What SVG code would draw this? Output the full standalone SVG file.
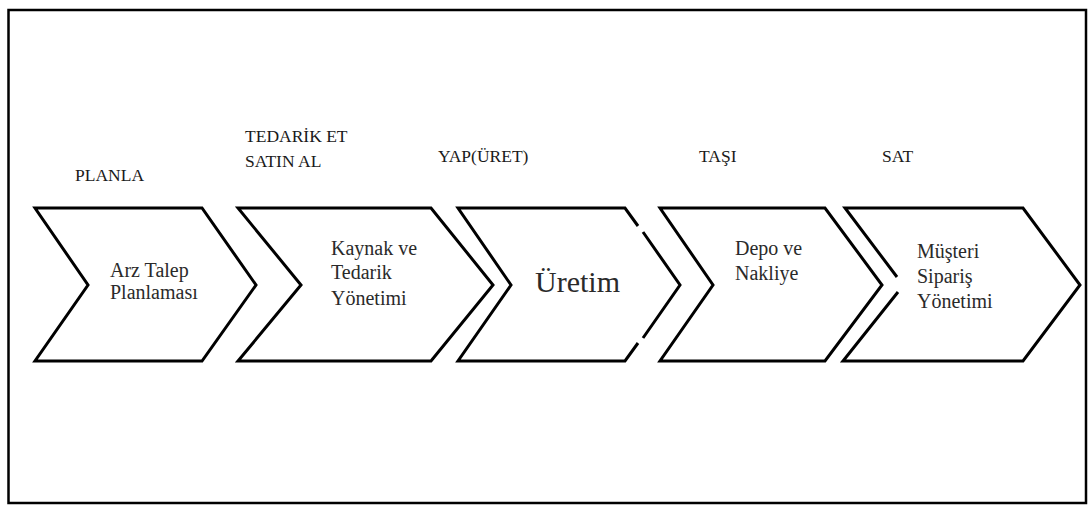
<svg xmlns="http://www.w3.org/2000/svg" width="1090" height="507" viewBox="0 0 1090 507">
<style>
.frame{fill:none;stroke:#000;stroke-width:2.5}
.chev{fill:#fff;stroke:#000;stroke-width:3;stroke-linejoin:miter}
.edge{fill:none;stroke:#000;stroke-width:3;stroke-linejoin:miter}
text{font-family:'Liberation Serif','DejaVu Serif',serif}
.lbl{font-size:17.5px;fill:#1a1a1a}
.in{font-size:20px;fill:#2a2a2a}
.big{font-size:30px;fill:#2a2a2a}
</style>
<rect width="1090" height="507" fill="#fff"/>
<rect class="frame" x="8.5" y="10" width="1077.5" height="493"/>
<g id="labels">
<text class="lbl" x="75" y="181">PLANLA</text>
<text class="lbl" x="245" y="142">TEDARİK ET</text>
<text class="lbl" x="245" y="167">SATIN AL</text>
<text class="lbl" x="438" y="162">YAP(ÜRET)</text>
<text class="lbl" x="699" y="162">TAŞI</text>
<text class="lbl" x="882" y="162">SAT</text>
</g>
<g id="node1">
<polygon class="chev" points="35,208 202,208 256,285 202,361 35,361 88,285"/>
<text class="in" x="110" y="277">Arz Talep</text>
<text class="in" x="110" y="299">Planlaması</text>
</g>
<g id="node2">
<polygon class="chev" points="238,208 431,208 493,285 431,361 238,361 301,285"/>
<text class="in" x="331" y="255">Kaynak ve</text>
<text class="in" x="331" y="279">Tedarik</text>
<text class="in" x="331" y="305">Yönetimi</text>
</g>
<g id="node3">
<polyline class="edge" points="638,226 625,208 458,208 511,285 458,361 625,361 638,343"/>
<polyline class="edge" points="643,232 680,285 643,338"/>
<text class="big" x="535" y="292">Üretim</text>
</g>
<g id="node4">
<polygon class="chev" points="660,208 825,208 882,285 825,361 660,361 713,285"/>
<text class="in" x="735" y="255">Depo ve</text>
<text class="in" x="735" y="280">Nakliye</text>
</g>
<g id="node5">
<polyline class="edge" points="897,277 845,208 1023,208 1080,285 1023,361 843,361 898,292"/>
<text class="in" x="917" y="258">Müşteri</text>
<text class="in" x="917" y="283">Sipariş</text>
<text class="in" x="917" y="308">Yönetimi</text>
</g>
<g id="connectors"></g>
</svg>
